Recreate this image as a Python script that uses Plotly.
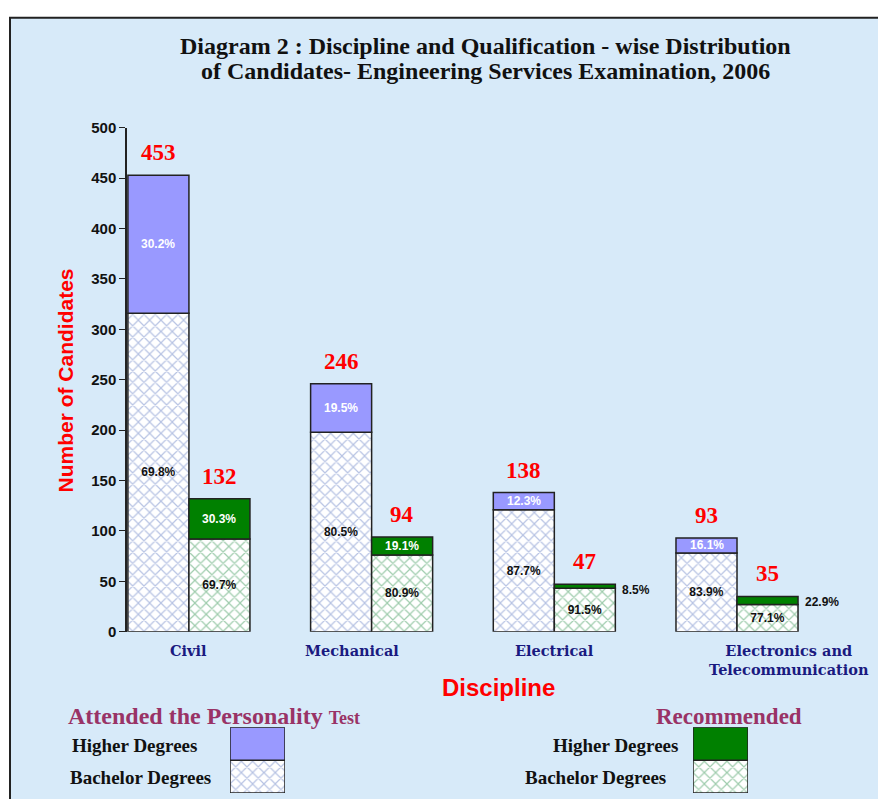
import plotly.graph_objects as go

# ---- data ----
disciplines = ["Civil", "Mechanical", "Electrical", "Electronics and<br>Telecommunication"]
att_total = [453, 246, 138, 93]
att_higher = [137, 48, 17, 15]
att_bachelor = [316, 198, 121, 78]
att_higher_pct = ["30.2%", "19.5%", "12.3%", "16.1%"]
att_bachelor_pct = ["69.8%", "80.5%", "87.7%", "83.9%"]

rec_total = [132, 94, 47, 35]
rec_higher = [40, 18, 4, 8]
rec_bachelor = [92, 76, 43, 27]
rec_higher_pct = ["30.3%", "19.1%", "8.5%", "22.9%"]
rec_bachelor_pct = ["69.7%", "80.9%", "91.5%", "77.1%"]

xs = list(range(len(disciplines)))

W, H = 870, 799
DX = 8
AY, BY = 14.3, 0.982  # observed vertical placement of the page in the snapshot


def px(x):
    return (x - DX) / W


def py(y):
    return 1 - ((y - AY) / BY) / H


BG = "#d7eaf9"
LAV = "#9999ff"
GREEN = "#008000"
BLUE_HATCH = "#7088c8"
GREEN_HATCH = "#3f9a5c"
SERIF = "Liberation Serif, Times New Roman, serif"
WSERIF = "DejaVu Serif, serif"
SANS = "Liberation Sans, Arial, sans-serif"

BW = 0.334
line = dict(color="#222222", width=1.5)


def hatch(col):
    return dict(shape="x", fgcolor=col, bgcolor="white", size=8, solidity=0.28)


fig = go.Figure()

fig.add_trace(go.Bar(
    x=xs, y=att_bachelor, base=[0] * 4, width=BW, offset=-BW,
    marker=dict(color="white", line=line, pattern=hatch(BLUE_HATCH)),
    text=[f"<b>{t}</b>" for t in att_bachelor_pct], textposition="inside", insidetextanchor="middle",
    textfont=dict(family=SANS, size=12, color="#111111"), textangle=0,
    showlegend=False, hoverinfo="skip"))
fig.add_trace(go.Bar(
    x=xs, y=att_higher, base=att_bachelor, width=BW, offset=-BW,
    marker=dict(color=LAV, line=line), textposition="none",
    showlegend=False, hoverinfo="skip"))
fig.add_trace(go.Bar(
    x=xs, y=rec_bachelor, base=[0] * 4, width=BW, offset=0,
    marker=dict(color="white", line=line, pattern=hatch(GREEN_HATCH)),
    text=[f"<b>{t}</b>" for t in rec_bachelor_pct], textposition="inside", insidetextanchor="middle",
    textfont=dict(family=SANS, size=12, color="#111111"), textangle=0,
    showlegend=False, hoverinfo="skip"))
fig.add_trace(go.Bar(
    x=xs, y=rec_higher, base=rec_bachelor, width=BW, offset=0,
    marker=dict(color=GREEN, line=line), textposition="none",
    showlegend=False, hoverinfo="skip"))

annotations = []
for i in xs:
    # totals
    annotations.append(dict(x=i - BW / 2, y=att_total[i], xref="x", yref="y",
                            text=f"<b>{att_total[i]}</b>", showarrow=False,
                            xanchor="center", yanchor="bottom", yshift=8,
                            font=dict(family=SERIF, size=23, color="#ff0000")))
    annotations.append(dict(x=i + BW / 2, y=rec_total[i], xref="x", yref="y",
                            text=f"<b>{rec_total[i]}</b>", showarrow=False,
                            xanchor="center", yanchor="bottom", yshift=8,
                            font=dict(family=SERIF, size=23, color="#ff0000")))
    # higher-degree shares
    annotations.append(dict(x=i - BW / 2, y=att_bachelor[i] + att_higher[i] / 2, xref="x", yref="y",
                            text=f"<b>{att_higher_pct[i]}</b>", showarrow=False,
                            xanchor="center", yanchor="middle",
                            font=dict(family=SANS, size=12, color="white")))
    if rec_higher[i] >= 12:
        annotations.append(dict(x=i + BW / 2, y=rec_bachelor[i] + rec_higher[i] / 2, xref="x", yref="y",
                                text=f"<b>{rec_higher_pct[i]}</b>", showarrow=False,
                                xanchor="center", yanchor="middle",
                                font=dict(family=SANS, size=12, color="white")))
    else:
        annotations.append(dict(x=i + BW, y=rec_total[i], xref="x", yref="y",
                                text=f"<b>{rec_higher_pct[i]}</b>", showarrow=False,
                                xanchor="left", yanchor="middle", xshift=5, yshift=-6,
                                font=dict(family=SANS, size=12, color="#111111")))

# category labels (placed like the original, slightly off-centre for some)
label_shift = [0, -20, 0, 52]
for i in xs:
    annotations.append(dict(x=i, y=0, xref="x", yref="y", text=f"<b>{disciplines[i]}</b>",
                            showarrow=False, xanchor="center", yanchor="top",
                            xshift=label_shift[i], yshift=-8,
                            font=dict(family=WSERIF, size=14.5, color="#1a1a80")))

# title (two lines, tight spacing)
for yy, t in [(43, "Diagram 2 : Discipline and Qualification - wise Distribution"),
              (68, "of Candidates- Engineering Services Examination, 2006")]:
    annotations.append(dict(x=px(486), y=py(yy), xref="paper", yref="paper",
                            text=f"<b>{t}</b>", showarrow=False, xanchor="center", yanchor="middle",
                            font=dict(family=SERIF, size=24, color="#111111")))
annotations.append(dict(x=px(65), y=py(379), xref="paper", yref="paper",
                        text="<b>Number of Candidates</b>", textangle=-90, showarrow=False,
                        xanchor="center", yanchor="middle",
                        font=dict(family=SANS, size=21, color="#ff0000")))
annotations.append(dict(x=px(498), y=py(687), xref="paper", yref="paper",
                        text="<b>Discipline</b>", showarrow=False, xanchor="center", yanchor="middle",
                        font=dict(family=SANS, size=24, color="#ff0000")))
MAROON = "#993366"
annotations.append(dict(x=px(66), y=py(716), xref="paper", yref="paper", xanchor="left", yanchor="middle",
                        text="<b>Attended the Personality</b> <span style='font-size:18px'><b>Test</b></span>",
                        showarrow=False, font=dict(family=SERIF, size=24, color=MAROON)))
annotations.append(dict(x=px(729), y=py(716), xref="paper", yref="paper", xanchor="center", yanchor="middle",
                        text="<b>Recommended</b>", showarrow=False,
                        font=dict(family=SERIF, size=23, color=MAROON)))
for (xx, yy, t) in [(134, 745, "Higher Degrees"), (140, 777, "Bachelor Degrees"),
                    (615, 745, "Higher Degrees"), (595, 777, "Bachelor Degrees")]:
    annotations.append(dict(x=px(xx), y=py(yy), xref="paper", yref="paper",
                            xanchor="center", yanchor="middle",
                            text=f"<b>{t}</b>", showarrow=False,
                            font=dict(family=SERIF, size=19, color="#111111")))

# legend swatches as bars on small hidden axes
sw = [0]
fig.add_trace(go.Bar(x=sw, y=[1], base=[0], width=1, xaxis="x2", yaxis="y2",
                     marker=dict(color="white", line=line, pattern=hatch(BLUE_HATCH)),
                     showlegend=False, hoverinfo="skip"))
fig.add_trace(go.Bar(x=sw, y=[1], base=[1], width=1, xaxis="x2", yaxis="y2",
                     marker=dict(color=LAV, line=line), showlegend=False, hoverinfo="skip"))
fig.add_trace(go.Bar(x=sw, y=[1], base=[0], width=1, xaxis="x3", yaxis="y3",
                     marker=dict(color="white", line=line, pattern=hatch(GREEN_HATCH)),
                     showlegend=False, hoverinfo="skip"))
fig.add_trace(go.Bar(x=sw, y=[1], base=[1], width=1, xaxis="x3", yaxis="y3",
                     marker=dict(color=GREEN, line=line), showlegend=False, hoverinfo="skip"))

hidden = dict(visible=False, fixedrange=True)
sw_y = [max(py(793), 0.002), py(727)]

fig.update_layout(
    width=W, height=H,
    margin=dict(l=0, r=0, t=0, b=0),
    paper_bgcolor="white",
    plot_bgcolor="rgba(0,0,0,0)",
    barmode="overlay",
    xaxis=dict(domain=[px(127), px(830)], range=[-0.339, 3.509],
               showticklabels=False, showline=False, showgrid=False, zeroline=False, ticks=""),
    yaxis=dict(domain=[py(631), py(125.5)], range=[0, 500],
               tickvals=list(range(0, 501, 50)), ticktext=[f"<b>{v}</b>" for v in range(0, 501, 50)],
               showline=True, linecolor="#222222", linewidth=1.5,
               ticks="outside", ticklen=6, tickcolor="#222222",
               showgrid=False, zeroline=False,
               tickfont=dict(family=SANS, size=15, color="#111111")),
    xaxis2=dict(domain=[px(230), px(285)], range=[-0.5, 0.5], anchor="y2", **hidden),
    yaxis2=dict(domain=sw_y, range=[0, 2], anchor="x2", **hidden),
    xaxis3=dict(domain=[px(693), px(748)], range=[-0.5, 0.5], anchor="y3", **hidden),
    yaxis3=dict(domain=sw_y, range=[0, 2], anchor="x3", **hidden),
    annotations=annotations,
    shapes=[dict(type="rect", xref="paper", yref="paper", layer="below",
                 x0=px(10), x1=1.02, y0=-0.02, y1=0.999,
                 fillcolor=BG, line=dict(color="#222222", width=2))],
)

fig.write_html("out.html")
